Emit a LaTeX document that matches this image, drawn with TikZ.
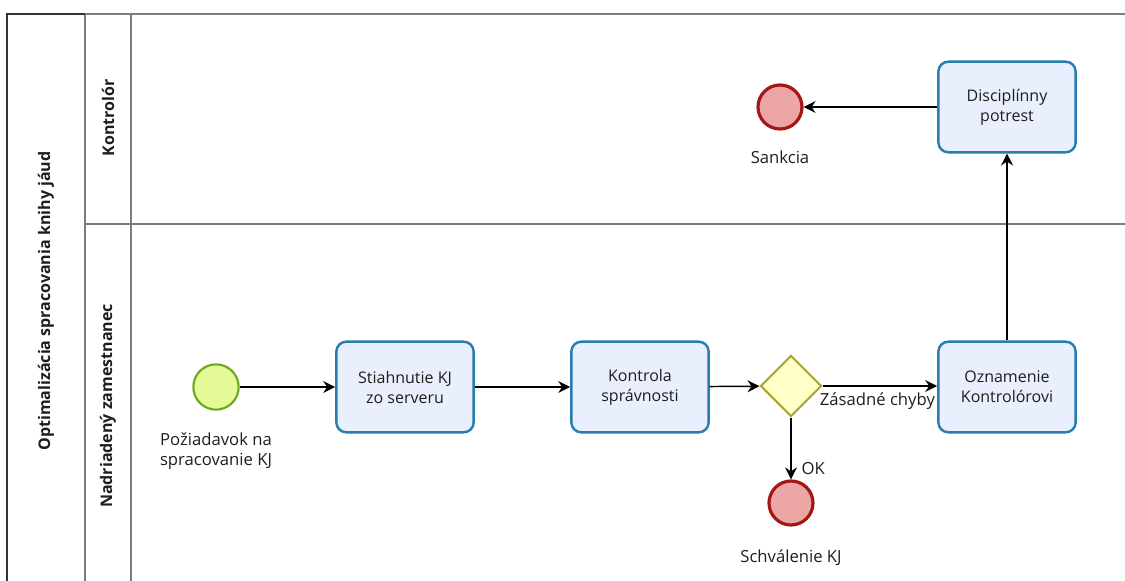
\documentclass[tikz,border=0pt]{standalone}
\usepackage{fontspec}
\setmainfont{Open Sans}
\usetikzlibrary{positioning,shapes.geometric,arrows.meta}

\definecolor{taskfill}{RGB}{234,239,253}
\definecolor{taskline}{RGB}{40,125,175}
\definecolor{startfill}{RGB}{228,250,150}
\definecolor{startline}{RGB}{105,170,30}
\definecolor{endfill}{RGB}{236,166,166}
\definecolor{endline}{RGB}{165,22,22}
\definecolor{gatefill}{RGB}{255,255,200}
\definecolor{gateline}{RGB}{170,168,55}
\definecolor{laneline}{RGB}{125,125,125}
\definecolor{txt}{RGB}{30,30,30}

\tikzset{
  task/.style={draw=taskline, fill=taskfill, line width=1.8pt, rounded corners=7.5pt,
    minimum width=103pt, minimum height=68pt, align=center, text=txt, font=\fontsize{12}{15}\selectfont},
  startev/.style={circle, draw=startline, fill=startfill, line width=1.6pt, minimum size=34pt, inner sep=0pt},
  endev/.style={circle, draw=endline, fill=endfill, line width=2.4pt, minimum size=33pt, inner sep=0pt},
  gateway/.style={diamond, draw=gateline, fill=gatefill, line width=1.6pt, minimum width=46pt, minimum height=46pt, inner sep=0pt},
  evlabel/.style={align=center, text=txt, font=\fontsize{12.5}{15}\selectfont},
  flow/.style={-{Stealth[length=9pt,width=9pt,inset=3pt]}, line width=1.1pt, black},
  lanetitle/.style={rotate=90, text=txt, font=\bfseries\fontsize{12}{14}\selectfont},
}

\begin{document}
\begin{tikzpicture}[x=0.75pt,y=-0.75pt]
\useasboundingbox (0,0) rectangle (1125,581);
% pool and lanes
\draw[laneline, line width=1pt] (85,14) -- (1125,14);
\draw[laneline, line width=1pt] (85,14) -- (85,581);
\draw[laneline, line width=1pt] (131,14) -- (131,581);
\draw[laneline, line width=1pt] (85,224) -- (1125,224);
\draw[black!80, line width=1.1pt] (7,581) -- (7,14) -- (85,14);

\node[lanetitle] (pool) at (46,301) {Optimalizácia spracovania knihy jáud};
\node[lanetitle] (kontrolor) at (108,118) {Kontrolór};
\node[lanetitle] (nadriadeny) at (108,406) {Nadriadený zamestnanec};

% lower lane
\node[startev, label={[evlabel, label distance=13pt]below:Požiadavok na\\spracovanie KJ}] (start) at (216,387) {};
\node[task] (stiahnutie) at (405,387) {Stiahnutie KJ\\zo serveru};
\node[task] (kontrola) at (640,387) {Kontrola\\správnosti};
\node[gateway] (brana) at (791,386) {};
\node[task] (oznamenie) at (1007,387) {Oznamenie\\Kontrolórovi};
\node[endev, label={[evlabel, label distance=13.5pt]below:Schválenie KJ}] (schvalenie) at (791,503) {};

% upper lane
\node[task] (potrest) at (1007,107) {Disciplínny\\potrest};
\node[endev, label={[evlabel, label distance=11.5pt]below:Sankcia}] (sankcia) at (780,107) {};

% flows
\draw[flow] (start) -- (stiahnutie);
\draw[flow] (stiahnutie) -- (kontrola);
\draw[flow] (kontrola) -- (brana);
\draw[flow] (brana.east) -- (oznamenie.west |- brana.east)
  node[evlabel, pos=0.0, anchor=north west, xshift=-6pt, yshift=-1pt] (chyby) {Zásadné chyby};
\draw[flow] (brana) -- (schvalenie) node[evlabel, pos=1, anchor=south west, xshift=4pt, yshift=0pt] (ok) {OK};
\draw[flow] (oznamenie) -- (potrest);
\draw[flow] (potrest) -- (sankcia);
\end{tikzpicture}
\end{document}
